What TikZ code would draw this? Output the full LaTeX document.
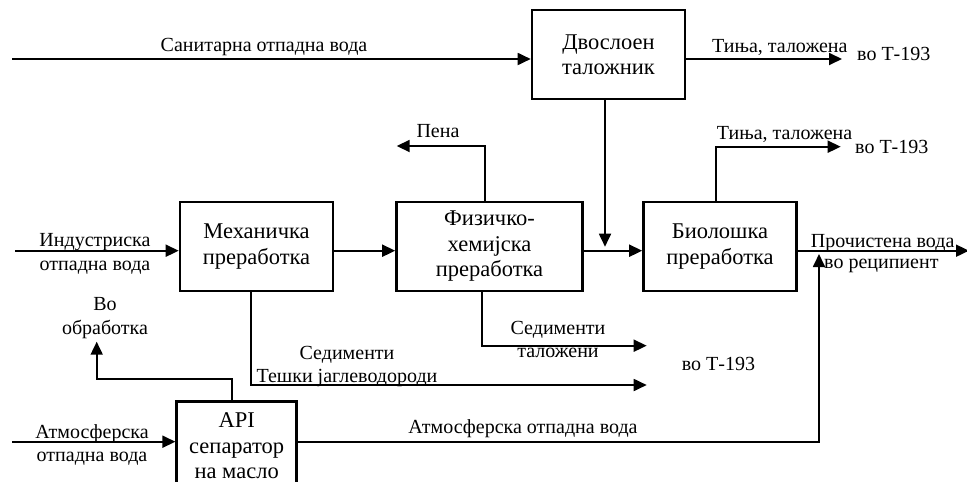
\documentclass[tikz,border=0pt]{standalone}
\usepackage{fontspec}
\setmainfont{Liberation Serif}
\usetikzlibrary{arrows.meta}
\begin{document}
\begin{tikzpicture}[x=1pt,y=-1pt,
  box/.style={draw,line width=2.6pt,align=center,inner sep=0pt,
    minimum width=153pt,minimum height=89pt,font=\fontsize{22.5}{25.5}\selectfont},
  flow/.style={line width=1.8pt,-{Triangle[length=13pt,width=12pt]}},
  lbl/.style={inner sep=0pt,align=center,anchor=base,font=\fontsize{20}{23.3}\selectfont}]
\useasboundingbox (0,0) rectangle (967,482);
\clip (0,0) rectangle (967,482);

% process units
\node[box] (dvo) at (608.5,54.5) {Двослоен\\таложник};
\node[box] (mech) at (256.5,246.5) {Механичка\\преработка};
\node[box,minimum width=186pt] (fiz) at (489.5,246.3) {Физичко-\\хемијска\\преработка};
\node[box] (bio) at (720,246.3) {Биолошка\\преработка};
\node[box,minimum width=120pt] (api) at (236.7,446) {API\\сепаратор\\на масло};

% routing points
\coordinate (sanIn) at (12,59);
\coordinate (dvoOut) at (842,59);
\coordinate (indIn) at (15,250.7);
\coordinate (outEnd) at (969,250.7);
\coordinate (dvoDrop) at (605,246.7);
\coordinate (penaTurn) at (485,146);
\coordinate (penaEnd) at (396.7,146);
\coordinate (bioTurn) at (715.7,146.7);
\coordinate (bioSludge) at (840.7,146.7);
\coordinate (fizTurn) at (482.3,345.7);
\coordinate (fizSed) at (646.7,345.7);
\coordinate (mechTurn) at (250.7,385);
\coordinate (mechSed) at (646.7,385);
\coordinate (apiTurn) at (231.7,379);
\coordinate (oilBend) at (96.7,379);
\coordinate (oilEnd) at (96.7,341.7);
\coordinate (atmIn) at (12,441.7);
\coordinate (atmBend) at (819,441.7);
\coordinate (atmJoin) at (819,254);

% main water line
\draw[flow] (sanIn) -- (sanIn -| dvo.west);
\draw[flow] (dvo.east |- dvoOut) -- (dvoOut);
\draw[flow] (indIn) -- (indIn -| mech.west);
\draw[flow] (mech.east |- indIn) -- (fiz.west |- indIn);
\draw[flow] (fiz.east |- indIn) -- (bio.west |- indIn);
\draw[flow] (bio.east |- indIn) -- (outEnd);
\draw[flow] (dvo.south -| dvoDrop) -- (dvoDrop);

% side streams
\draw[flow] (fiz.north -| penaTurn) -- (penaTurn) -- (penaEnd);
\draw[flow] (bio.north -| bioTurn) -- (bioTurn) -- (bioSludge);
\draw[flow] (fiz.south -| fizTurn) -- (fizTurn) -- (fizSed);
\draw[flow] (mech.south -| mechTurn) -- (mechTurn) -- (mechSed);
\draw[flow] (api.north -| apiTurn) -- (apiTurn) -- (oilBend) -- (oilEnd);
\draw[flow] (atmIn) -- (atmIn -| api.west);
\draw[flow] (api.east |- atmIn) -- (atmBend) -- (atmJoin);

% labels (base = baseline of the last line)
\node[lbl] (lSan) at (264,51.5) {Санитарна отпадна вода};
\node[lbl,anchor=base west] (lT1) at (712,52.7) {Тиња, таложена};
\node[lbl,anchor=base west] (lT1b) at (857,60) {во Т-193};
\node[lbl,anchor=base west] (lT2) at (716.7,139) {Тиња, таложена};
\node[lbl,anchor=base west] (lT2b) at (855,153.3) {во Т-193};
\node[lbl] (lPena) at (438,137.7) {Пена};
\node[lbl] (lInd) at (95,270) {Индустриска\\отпадна вода};
\node[lbl] (lVo) at (105,334) {Во\\обработка};
\node[lbl] (lSed1) at (347,382.3) {Седименти\\Тешки јаглеводороди};
\node[lbl] (lSed2) at (558,357.3) {Седименти\\таложени};
\node[lbl,anchor=base west] (lT3) at (681.7,370) {во Т-193};
\node[lbl] (lAtm) at (523,433.3) {Атмосферска отпадна вода};
\node[lbl] (lAtmIn) at (92,461.7) {Атмосферска\\отпадна вода};
\node[lbl,anchor=base west] (lOut) at (810.7,247.7) {Прочистена вода};
\node[lbl,anchor=base west] (lOut2) at (824,268.3) {во реципиент};
\end{tikzpicture}
\end{document}
